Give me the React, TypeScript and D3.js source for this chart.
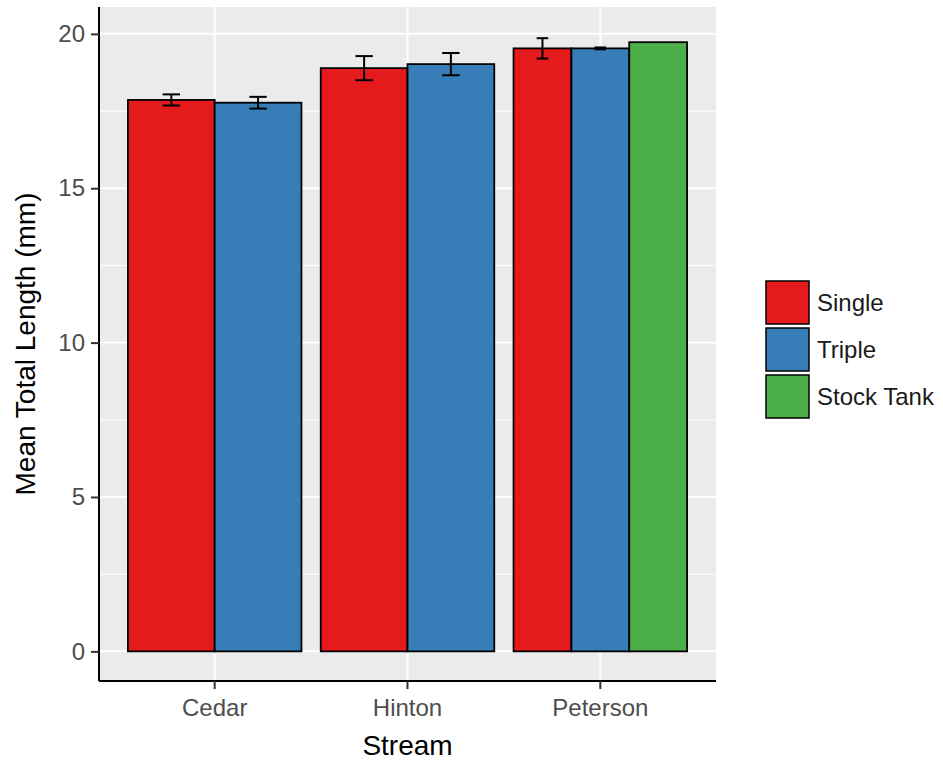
import React, { useEffect, useRef } from "react";
import * as d3 from "d3";

const streams = ["Cedar", "Hinton", "Peterson"];
const types = ["Single", "Triple", "Stock Tank"];
const colors = ["#E41A1C", "#377EB8", "#4DAF4A"];

// mean total length per stream, one entry per type (null = not sampled)
const meanSingle = [17.86, 18.89, 19.53];
const meanTriple = [17.77, 19.02, 19.53];
const meanStockTank = [null, null, 19.73];

// standard error (half height of error bar), null = no bar drawn
const seSingle = [0.18, 0.39, 0.33];
const seTriple = [0.19, 0.36, 0.03];
const seStockTank = [null, null, null];

const yTicks = [0, 5, 10, 15, 20];
const yMinor = [2.5, 7.5, 12.5, 17.5];

const xTitle = "Stream";
const yTitle = "Mean Total Length (mm)";

interface Row {
  stream: string;
  type: string;
  mean: number;
  se: number | null;
}

const Chart: React.FC = () => {
  const chartRef = useRef<SVGSVGElement | null>(null);

  useEffect(() => {
    const width = 943;
    const height = 763;
    const panel = { left: 99, right: 716, top: 7, bottom: 681 };
    const font = "'Liberation Sans', Arial, sans-serif";

    const svg = d3.select(chartRef.current);
    svg.selectAll("*").remove();
    svg.attr("width", width).attr("height", height);

    const means = [meanSingle, meanTriple, meanStockTank];
    const ses = [seSingle, seTriple, seStockTank];
    const rows: Row[] = [];
    streams.forEach((s, i) => {
      types.forEach((t, j) => {
        const m = means[j][i];
        if (m !== null) rows.push({ stream: s, type: t, mean: m, se: ses[j][i] });
      });
    });

    const x = d3
      .scaleBand<string>()
      .domain(streams)
      .range([panel.left, panel.right])
      .paddingInner(0.1)
      .paddingOuter(0.15);

    const y = d3.scaleLinear().domain([-0.96, 20.87]).range([panel.bottom, panel.top]);

    const color = d3.scaleOrdinal<string, string>().domain(types).range(colors);

    // panel background
    svg
      .append("rect")
      .attr("x", panel.left)
      .attr("y", panel.top)
      .attr("width", panel.right - panel.left)
      .attr("height", panel.bottom - panel.top)
      .attr("fill", "#EBEBEB");

    // grid
    svg
      .append("g")
      .selectAll("line")
      .data(yMinor)
      .enter()
      .append("line")
      .attr("x1", panel.left)
      .attr("x2", panel.right)
      .attr("y1", (d) => y(d))
      .attr("y2", (d) => y(d))
      .attr("stroke", "white")
      .attr("stroke-width", 1);

    svg
      .append("g")
      .selectAll("line")
      .data(yTicks)
      .enter()
      .append("line")
      .attr("x1", panel.left)
      .attr("x2", panel.right)
      .attr("y1", (d) => y(d))
      .attr("y2", (d) => y(d))
      .attr("stroke", "white")
      .attr("stroke-width", 2);

    svg
      .append("g")
      .selectAll("line")
      .data(streams)
      .enter()
      .append("line")
      .attr("x1", (d) => (x(d) as number) + x.bandwidth() / 2)
      .attr("x2", (d) => (x(d) as number) + x.bandwidth() / 2)
      .attr("y1", panel.top)
      .attr("y2", panel.bottom)
      .attr("stroke", "white")
      .attr("stroke-width", 2);

    // bars, dodged within each stream
    const inner = (stream: string) => {
      const present = rows.filter((r) => r.stream === stream).map((r) => r.type);
      return d3.scaleBand<string>().domain(present).range([0, x.bandwidth()]);
    };

    const bars = svg.append("g");
    rows.forEach((r) => {
      const sub = inner(r.stream);
      const bx = (x(r.stream) as number) + (sub(r.type) as number);
      const bw = sub.bandwidth();
      bars
        .append("rect")
        .attr("x", bx)
        .attr("y", y(r.mean))
        .attr("width", bw)
        .attr("height", y(0) - y(r.mean))
        .attr("fill", color(r.type))
        .attr("stroke", "black")
        .attr("stroke-width", 1.8);

      if (r.se !== null) {
        const cx = bx + bw / 2;
        const cap = bw * 0.2;
        const eb = bars.append("g").attr("stroke", "black").attr("stroke-width", 2);
        eb.append("line")
          .attr("x1", cx)
          .attr("x2", cx)
          .attr("y1", y(r.mean + r.se))
          .attr("y2", y(r.mean - r.se));
        eb.append("line")
          .attr("x1", cx - cap / 2)
          .attr("x2", cx + cap / 2)
          .attr("y1", y(r.mean + r.se))
          .attr("y2", y(r.mean + r.se));
        eb.append("line")
          .attr("x1", cx - cap / 2)
          .attr("x2", cx + cap / 2)
          .attr("y1", y(r.mean - r.se))
          .attr("y2", y(r.mean - r.se));
      }
    });

    // axes
    const yAxis = svg
      .append("g")
      .attr("transform", `translate(${panel.left},0)`)
      .call(d3.axisLeft(y).tickValues(yTicks).tickSize(8).tickPadding(6));
    yAxis.select(".domain").attr("d", `M0,${panel.top}V${panel.bottom}`).attr("stroke", "black").attr("stroke-width", 2);
    yAxis.selectAll(".tick line").attr("stroke", "#333333").attr("stroke-width", 2);
    yAxis
      .selectAll(".tick text")
      .attr("fill", "#4D4D4D")
      .style("font-family", font)
      .style("font-size", "24px");

    const xAxis = svg
      .append("g")
      .attr("transform", `translate(0,${panel.bottom})`)
      .call(d3.axisBottom(x).tickSize(8).tickPadding(10));
    xAxis.select(".domain").attr("d", `M${panel.left},0H${panel.right}`).attr("stroke", "black").attr("stroke-width", 2);
    xAxis.selectAll(".tick line").attr("stroke", "#333333").attr("stroke-width", 2);
    xAxis
      .selectAll(".tick text")
      .attr("fill", "#4D4D4D")
      .style("font-family", font)
      .style("font-size", "24px");

    // titles
    svg
      .append("text")
      .attr("x", (panel.left + panel.right) / 2)
      .attr("y", 755)
      .attr("text-anchor", "middle")
      .style("font-family", font)
      .style("font-size", "28px")
      .attr("fill", "black")
      .text(xTitle);

    svg
      .append("text")
      .attr("transform", `translate(35,${(panel.top + panel.bottom) / 2}) rotate(-90)`)
      .attr("text-anchor", "middle")
      .style("font-family", font)
      .style("font-size", "28px")
      .attr("fill", "black")
      .text(yTitle);

    // legend
    const legend = svg.append("g").attr("transform", "translate(766,281)");
    types.forEach((t, i) => {
      const g = legend.append("g").attr("transform", `translate(0,${i * 47})`);
      g.append("rect")
        .attr("width", 43)
        .attr("height", 43)
        .attr("fill", color(t))
        .attr("stroke", "black")
        .attr("stroke-width", 1.5);
      g.append("text")
        .attr("x", 51)
        .attr("y", 22)
        .attr("dy", "0.35em")
        .style("font-family", font)
        .style("font-size", "24px")
        .attr("fill", "#1A1A1A")
        .text(t);
    });
  }, []);

  return <svg ref={chartRef} style={{ position: "absolute", left: 0, top: 0 }} />;
};

export default function App() {
  return <Chart />;
}
